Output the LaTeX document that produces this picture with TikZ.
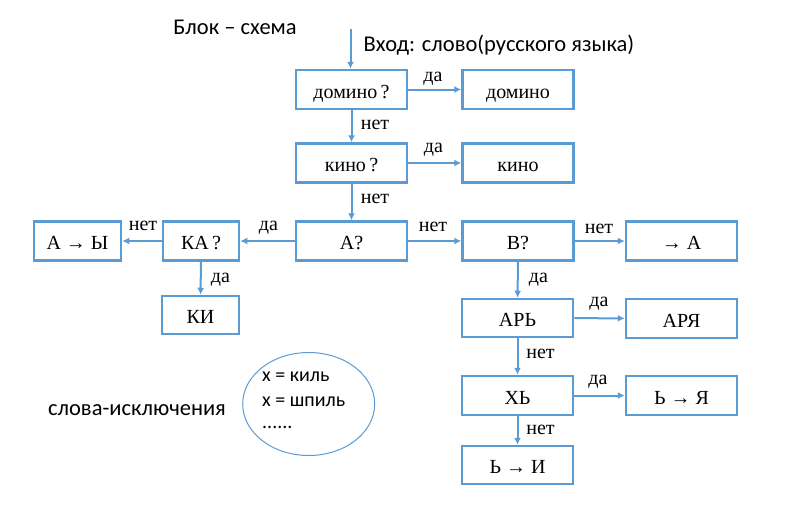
\documentclass[tikz,border=0pt]{standalone}
\usepackage{fontspec}
\setmainfont{Liberation Serif}
\newfontfamily\calib{Carlito}
\usetikzlibrary{arrows.meta,shapes.geometric}
\definecolor{bl}{HTML}{5B9BD5}
\begin{document}
\begin{tikzpicture}[x=1pt,y=-1pt,
  box/.style={draw=bl,line width=2.5pt,minimum width=111pt,minimum height=39pt,inner sep=0pt,text height=17pt,text depth=0pt,font=\fontsize{20}{24}\selectfont},
  lbl/.style={font=\fontsize{20}{24}\selectfont,inner sep=0pt,text height=9pt,text depth=0pt},
  sans/.style={font=\calib\fontsize{22.5}{26}\selectfont,inner sep=0pt},
  etxt/.style={font=\calib\fontsize{20}{24}\selectfont,inner sep=0pt,anchor=west},
  arr/.style={draw=bl,line width=2pt,-{Latex[length=7pt,width=7pt]}}]
\useasboundingbox (0,0) rectangle (808,506);
\node[sans] (title) at (235,27) {Блок – схема};
\node[sans] (input) at (499,45) {Вход: слово(русского языка)};
\node[box] (dq) at (351.5,89.5) {домино\,?};
\node[box] (d) at (518,89.5) {домино};
\node[box] (kq) at (351.5,163) {кино\,?};
\node[box] (k) at (518,163) {кино};
\node[box] (aq) at (351.5,241) {А?};
\node[box,minimum width=76pt] (kaq) at (201,241) {КА\,?};
\node[box,minimum width=87pt] (ay) at (77.5,241) {А → Ы};
\node[box,minimum width=77pt,minimum height=38pt] (ki) at (200.5,315) {КИ};
\node[box] (bq) at (518,241) {В?};
\node[box] (ta) at (681.5,241) {→ А};
\node[box,minimum height=38pt] (ar) at (517.5,318) {АРЬ};
\node[box] (arya) at (681.5,318.5) {АРЯ};
\node[box] (xb) at (517.5,395.5) {ХЬ};
\node[box] (bya) at (681.5,395.5) {Ь → Я};
\node[box,minimum height=38pt] (bi) at (517.5,465) {Ь → И};
\coordinate (start) at (350.5,29);
\draw[arr] (start) -- (dq.north -| start);
\draw[arr] (dq) -- (d);
\draw[arr] (dq) -- (kq);
\draw[arr] (kq) -- (k);
\draw[arr] (kq) -- (aq);
\draw[arr] (aq) -- (kaq);
\draw[arr] (kaq) -- (ay);
\draw[arr] (kaq) -- (ki);
\draw[arr] (aq) -- (bq);
\draw[arr] (bq) -- (ta);
\draw[arr] (bq) -- (ar);
\draw[arr] (ar) -- (arya);
\draw[arr] (ar) -- (xb);
\draw[arr] (xb) -- (bya);
\draw[arr] (xb) -- (bi);
\node[lbl] (l1) at (433,77) {да};
\node[lbl] (l2) at (375,125) {нет};
\node[lbl] (l3) at (433.5,148) {да};
\node[lbl] (l4) at (375,199) {нет};
\node[lbl] (l5) at (268.5,226) {да};
\node[lbl] (l6) at (143,226) {нет};
\node[lbl] (l7) at (220.5,278) {да};
\node[lbl] (l8) at (433,226.5) {нет};
\node[lbl] (l9) at (599,229) {нет};
\node[lbl] (l10) at (538.5,278) {да};
\node[lbl] (l11) at (599,301.5) {да};
\node[lbl] (l12) at (540.5,354) {нет};
\node[lbl] (l13) at (598,380) {да};
\node[lbl] (l14) at (540.5,430) {нет};
\node[sans] (excl) at (137,410) {слова-исключения};
\node[draw=bl,line width=1pt,ellipse,minimum width=132pt,minimum height=103pt] (ell) at (308.7,404) {};
\node[etxt] (e1) at (262,377) {x = киль};
\node[etxt] (e2) at (262,402) {x = шпиль};
\node[etxt] (e3) at (262,427) {......};
\end{tikzpicture}
\end{document}
